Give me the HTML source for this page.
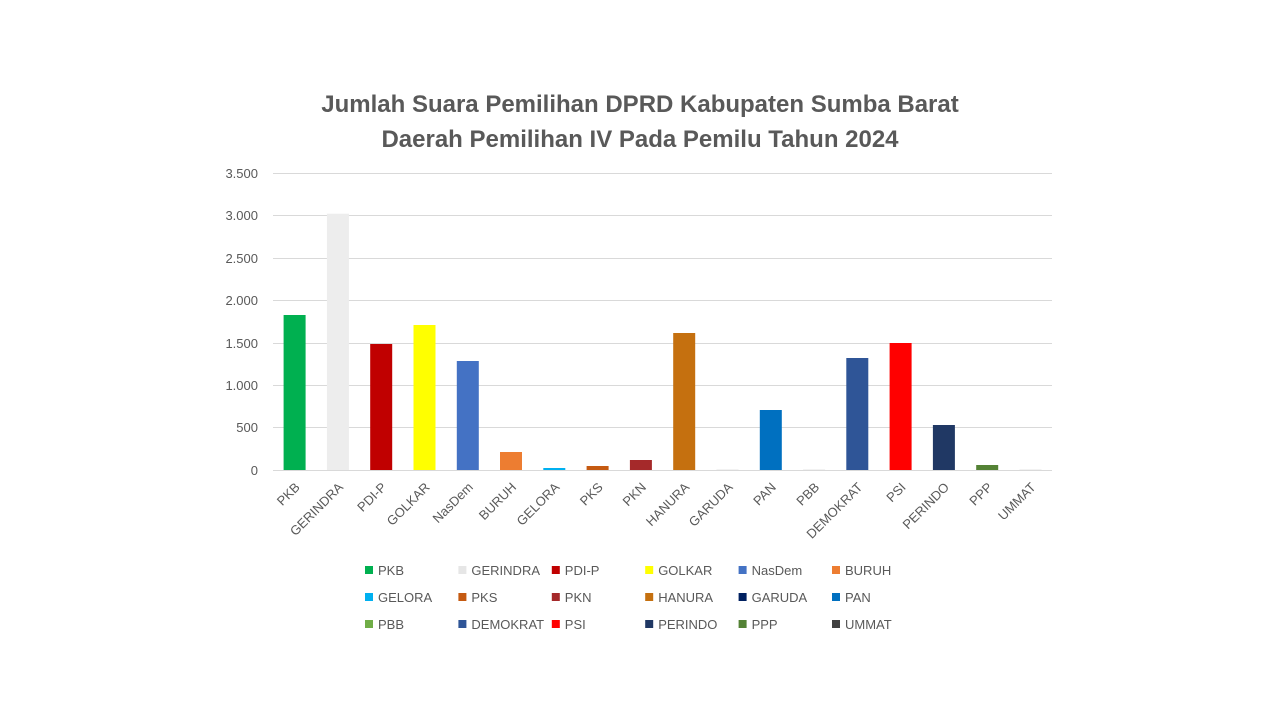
<!DOCTYPE html>
<html><head><meta charset="utf-8"><style>body{margin:0;background:#fff}svg{display:block}text{font-family:"Liberation Sans",sans-serif}</style></head><body>
<svg width="1280" height="720" xmlns="http://www.w3.org/2000/svg">
<text x="640" y="112" text-anchor="middle" font-size="24" font-weight="bold" fill="#595959">Jumlah Suara Pemilihan DPRD Kabupaten Sumba Barat</text>
<text x="640" y="147" text-anchor="middle" font-size="24" font-weight="bold" fill="#595959">Daerah Pemilihan IV Pada Pemilu Tahun 2024</text>
<g stroke="#d9d9d9" stroke-width="1">
<line x1="273" x2="1052" y1="173.5" y2="173.5"/><line x1="273" x2="1052" y1="215.5" y2="215.5"/><line x1="273" x2="1052" y1="258.5" y2="258.5"/><line x1="273" x2="1052" y1="300.5" y2="300.5"/><line x1="273" x2="1052" y1="343.5" y2="343.5"/><line x1="273" x2="1052" y1="385.5" y2="385.5"/><line x1="273" x2="1052" y1="427.5" y2="427.5"/><line x1="273" x2="1052" y1="470.5" y2="470.5"/>
</g>
<g font-size="13" fill="#595959" text-anchor="end">
<text x="258" y="178">3.500</text><text x="258" y="220">3.000</text><text x="258" y="263">2.500</text><text x="258" y="305">2.000</text><text x="258" y="348">1.500</text><text x="258" y="390">1.000</text><text x="258" y="432">500</text><text x="258" y="475">0</text>
</g>
<g>
<rect x="283.6" y="315" width="22" height="155" fill="#00b050"/>
<rect x="326.9" y="213.7" width="22" height="256.3" fill="#ededed"/>
<rect x="370.2" y="344" width="22" height="126" fill="#c00000"/>
<rect x="413.5" y="325" width="22" height="145" fill="#ffff00"/>
<rect x="456.8" y="361" width="22" height="109" fill="#4472c4"/>
<rect x="500" y="452" width="22" height="18" fill="#ed7d31"/>
<rect x="543.3" y="468" width="22" height="2" fill="#00b0f0"/>
<rect x="586.6" y="466" width="22" height="4" fill="#c55a11"/>
<rect x="629.9" y="460" width="22" height="10" fill="#a5292a"/>
<rect x="673.2" y="333" width="22" height="137" fill="#c5700f"/>
<rect x="716.5" y="469" width="22" height="1" fill="#f2f2f2"/>
<rect x="759.8" y="410" width="22" height="60" fill="#0070c0"/>
<rect x="803.1" y="469" width="22" height="1" fill="#f2f2f2"/>
<rect x="846.3" y="358" width="22" height="112" fill="#2f5597"/>
<rect x="889.6" y="343" width="22" height="127" fill="#ff0000"/>
<rect x="932.9" y="425" width="22" height="45" fill="#203864"/>
<rect x="976.2" y="465" width="22" height="5" fill="#548235"/>
<rect x="1019.5" y="469" width="22" height="1" fill="#f2f2f2"/>
</g>
<g font-size="13" fill="#595959" text-anchor="end">
<text transform="translate(300.6,488) rotate(-45)">PKB</text>
<text transform="translate(343.9,488) rotate(-45)">GERINDRA</text>
<text transform="translate(387.2,488) rotate(-45)">PDI-P</text>
<text transform="translate(430.5,488) rotate(-45)">GOLKAR</text>
<text transform="translate(473.8,488) rotate(-45)">NasDem</text>
<text transform="translate(517,488) rotate(-45)">BURUH</text>
<text transform="translate(560.3,488) rotate(-45)">GELORA</text>
<text transform="translate(603.6,488) rotate(-45)">PKS</text>
<text transform="translate(646.9,488) rotate(-45)">PKN</text>
<text transform="translate(690.2,488) rotate(-45)">HANURA</text>
<text transform="translate(733.5,488) rotate(-45)">GARUDA</text>
<text transform="translate(776.8,488) rotate(-45)">PAN</text>
<text transform="translate(820.1,488) rotate(-45)">PBB</text>
<text transform="translate(863.3,488) rotate(-45)">DEMOKRAT</text>
<text transform="translate(906.6,488) rotate(-45)">PSI</text>
<text transform="translate(949.9,488) rotate(-45)">PERINDO</text>
<text transform="translate(993.2,488) rotate(-45)">PPP</text>
<text transform="translate(1036.5,488) rotate(-45)">UMMAT</text>
</g>
<g font-size="13" fill="#595959">
<rect x="365" y="566" width="8" height="8" fill="#00b050"/><text x="378" y="575">PKB</text>
<rect x="458.4" y="566" width="8" height="8" fill="#e6e6e6"/><text x="471.4" y="575">GERINDRA</text>
<rect x="551.8" y="566" width="8" height="8" fill="#c00000"/><text x="564.8" y="575">PDI-P</text>
<rect x="645.2" y="566" width="8" height="8" fill="#ffff00"/><text x="658.2" y="575">GOLKAR</text>
<rect x="738.6" y="566" width="8" height="8" fill="#4472c4"/><text x="751.6" y="575">NasDem</text>
<rect x="832" y="566" width="8" height="8" fill="#ed7d31"/><text x="845" y="575">BURUH</text>
<rect x="365" y="593" width="8" height="8" fill="#00b0f0"/><text x="378" y="602">GELORA</text>
<rect x="458.4" y="593" width="8" height="8" fill="#c55a11"/><text x="471.4" y="602">PKS</text>
<rect x="551.8" y="593" width="8" height="8" fill="#a5292a"/><text x="564.8" y="602">PKN</text>
<rect x="645.2" y="593" width="8" height="8" fill="#c5700f"/><text x="658.2" y="602">HANURA</text>
<rect x="738.6" y="593" width="8" height="8" fill="#002060"/><text x="751.6" y="602">GARUDA</text>
<rect x="832" y="593" width="8" height="8" fill="#0070c0"/><text x="845" y="602">PAN</text>
<rect x="365" y="620" width="8" height="8" fill="#70ad47"/><text x="378" y="629">PBB</text>
<rect x="458.4" y="620" width="8" height="8" fill="#2f5597"/><text x="471.4" y="629">DEMOKRAT</text>
<rect x="551.8" y="620" width="8" height="8" fill="#ff0000"/><text x="564.8" y="629">PSI</text>
<rect x="645.2" y="620" width="8" height="8" fill="#203864"/><text x="658.2" y="629">PERINDO</text>
<rect x="738.6" y="620" width="8" height="8" fill="#548235"/><text x="751.6" y="629">PPP</text>
<rect x="832" y="620" width="8" height="8" fill="#404040"/><text x="845" y="629">UMMAT</text>
</g>
</svg>
</body></html>
